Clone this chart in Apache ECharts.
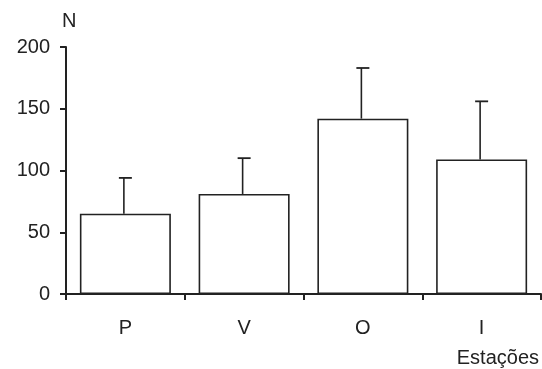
<!DOCTYPE html>
<html><head><meta charset="utf-8">
<script src="https://cdn.jsdelivr.net/npm/echarts@6/dist/echarts.min.js"></script>
<style>html,body{margin:0;padding:0;background:#fff}#c{width:542px;height:369px}</style>
</head><body><div id="c"></div>
<script>
var categories = ['P', 'V', 'O', 'I'];
var means = [65, 81, 142, 109];
var errTops = [94, 110, 183, 156];
var yTicks = [0, 50, 100, 150, 200];

var ink = '#222';
var chart = echarts.init(document.getElementById('c'));
chart.setOption({
  animation: false,
  grid: { left: 66, right: 1, top: 47, bottom: 75 },
  xAxis: {
    type: 'category', data: categories,
    axisLine: { lineStyle: { color: ink, width: 2 } },
    axisTick: { show: true, length: 6, lineStyle: { color: ink, width: 2 } },
    axisLabel: { color: ink, fontSize: 20, fontFamily: 'Liberation Sans, Arial', margin: 24 }
  },
  yAxis: {
    type: 'value', min: 0, max: 200, interval: 50,
    axisLine: { show: true, lineStyle: { color: ink, width: 2 } },
    axisTick: { show: true, length: 6, lineStyle: { color: ink, width: 2 } },
    splitLine: { show: false },
    axisLabel: { color: ink, fontSize: 20, fontFamily: 'Liberation Sans, Arial', margin: 16,
      formatter: function (v) { return yTicks.indexOf(v) >= 0 ? String(v) : ''; } }
  },
  graphic: [
    { type: 'text', left: 62, top: 11, style: { text: 'N', fill: ink, font: '20px Liberation Sans, Arial' } },
    { type: 'text', right: 3, top: 348, style: { text: 'Estações', fill: ink, font: '20px Liberation Sans, Arial' } }
  ],
  series: [
    {
      type: 'bar', data: means, barWidth: 91, z: 2,
      itemStyle: { color: '#fff', borderColor: ink, borderWidth: 1.6 }
    },
    {
      type: 'custom', z: 3,
      data: categories.map(function (c, i) { return [i, means[i], errTops[i]]; }),
      renderItem: function (params, api) {
        var b = api.coord([api.value(0), api.value(1)]);
        var t = api.coord([api.value(0), api.value(2)]);
        var x = b[0] - 1.5;
        return {
          type: 'group',
          children: [
            { type: 'line', shape: { x1: x, y1: b[1], x2: x, y2: t[1] }, style: { stroke: ink, lineWidth: 1.6 } },
            { type: 'line', shape: { x1: x - 5, y1: t[1], x2: x + 8, y2: t[1] }, style: { stroke: ink, lineWidth: 1.8 } }
          ]
        };
      }
    }
  ]
});
</script></body></html>
